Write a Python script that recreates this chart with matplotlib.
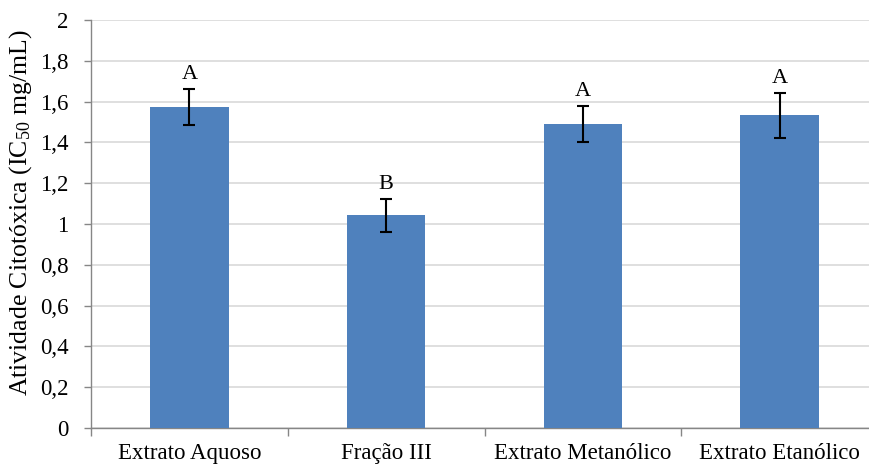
import matplotlib
matplotlib.use("Agg")
import matplotlib.pyplot as plt
import numpy as np

# dados
categorias = ["Extrato Aquoso", "Fração III", "Extrato Metanólico", "Extrato Etanólico"]
valores = [1.575, 1.043, 1.49, 1.532]
erros = [0.088, 0.081, 0.09, 0.11]
letras = ["A", "B", "A", "A"]
y_ticks = [0, 0.2, 0.4, 0.6, 0.8, 1.0, 1.2, 1.4, 1.6, 1.8, 2.0]

plt.rcParams['font.family'] = ['Liberation Serif', 'DejaVu Serif']
plt.rcParams['mathtext.fontset'] = 'custom'
plt.rcParams['mathtext.rm'] = 'Liberation Serif'
plt.rcParams['mathtext.it'] = 'Liberation Serif:italic'

fig = plt.figure(figsize=(8.69, 4.65), dpi=100)
ax = fig.add_axes([91 / 869, 37 / 465, 787 / 869, 408 / 465])

x = np.arange(len(categorias))
ax.bar(x, valores, width=0.4, color='#4f81bd', zorder=3)
ax.errorbar(x, valores, yerr=erros, fmt='none', ecolor='black',
            elinewidth=1.5, capsize=4.5, capthick=1.5, zorder=4)

for xi, v, e, l in zip(x, valores, erros, letras):
    ax.text(xi, v + e + 0.025, l, ha='center', va='bottom', fontsize=16)

ax.set_xlim(-0.5, len(categorias) - 0.5)
ax.set_ylim(0, 2)
ax.set_yticks(y_ticks)
ax.set_yticklabels([f"{t:g}".replace('.', ',') for t in y_ticks], fontsize=16.5)
ax.set_xticks(x)
ax.set_xticklabels(categorias, fontsize=16.5)
ax.tick_params(axis='x', which='major', length=0, pad=11)
ax.set_xticks(np.arange(-0.5, len(categorias)), minor=True)
ax.tick_params(axis='x', which='minor', length=6, color='#868686', width=1)
ax.tick_params(axis='y', length=5, color='#868686', width=1, pad=11)

ax.yaxis.grid(True, color='#d9d9d9', linewidth=1.2, zorder=0)
ax.set_axisbelow(True)
for s in ['top', 'right']:
    ax.spines[s].set_visible(False)
for s in ['left', 'bottom']:
    ax.spines[s].set_color('#868686')
    ax.spines[s].set_linewidth(1)

ax.set_ylabel("Atividade Citotóxica (IC$_{50}$ mg/mL)", fontsize=18.5)
ax.yaxis.set_label_coords(-0.072, 0.528)

fig.savefig("out.png", dpi=100)
